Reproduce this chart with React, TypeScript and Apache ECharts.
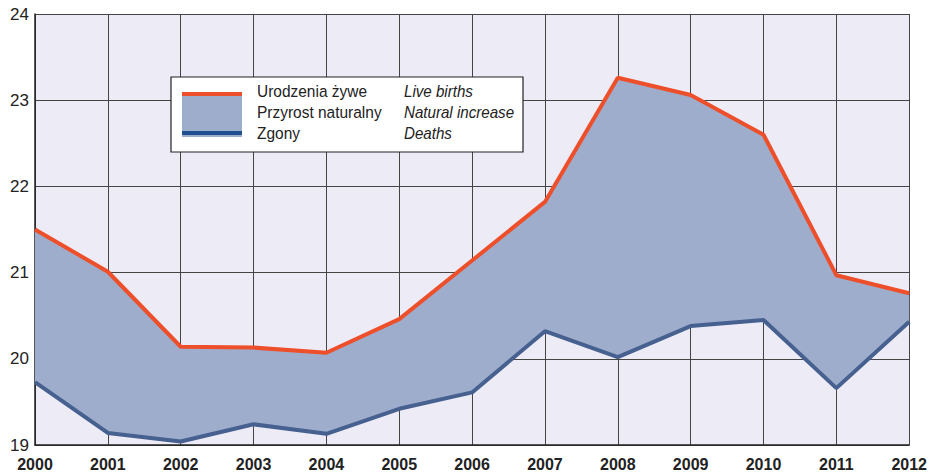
import React, { useEffect, useRef } from "react";
import * as echarts from "echarts";

const years = ["2000","2001","2002","2003","2004","2005","2006","2007","2008","2009","2010","2011","2012"];
const liveBirths = [21.5, 21.01, 20.14, 20.13, 20.07, 20.46, 21.14, 21.82, 23.26, 23.06, 22.6, 20.97, 20.76];
const deaths = [19.73, 19.14, 19.04, 19.24, 19.13, 19.42, 19.61, 20.32, 20.02, 20.38, 20.45, 19.66, 20.43];
const yTicks = [19, 20, 21, 22, 23, 24];
const legendPl = ["Urodzenia żywe", "Przyrost naturalny", "Zgony"];
const legendEn = ["Live births", "Natural increase", "Deaths"];

const RED = "#EE4F2B";
const BLUE = "#46608F";
const FILL = "#9FADCD";
const BG = "#EDEBF6";
const FONT = "'Liberation Sans Narrow', 'Liberation Sans', Arial, sans-serif";

export default function App() {
  const ref = useRef<HTMLDivElement>(null);
  useEffect(() => {
    const chart = echarts.init(ref.current!, null, { renderer: "svg" });
    const diff = liveBirths.map((v, i) => +(v - deaths[i]).toFixed(3));
    const lx = 171, ly = 77;
    chart.setOption({
      animation: false,
      grid: { left: 35, right: 19, top: 14, bottom: 30, show: true, backgroundColor: BG, borderWidth: 0 },
      xAxis: {
        type: "category",
        data: years,
        boundaryGap: false,
        axisLine: { show: true, lineStyle: { color: "#222", width: 1.5 } },
        axisTick: { show: false },
        axisLabel: { fontFamily: FONT, fontWeight: "bold", fontSize: 16, color: "#222", margin: 11 },
        splitLine: { show: true, lineStyle: { color: "#444", width: 1 } },
      },
      yAxis: {
        type: "value",
        min: yTicks[0],
        max: yTicks[yTicks.length - 1],
        interval: 1,
        axisLine: { show: true, lineStyle: { color: "#222", width: 1.5 } },
        axisTick: { show: false },
        axisLabel: { fontFamily: FONT, fontSize: 17, color: "#222", margin: 6 },
        splitLine: { show: true, lineStyle: { color: "#444", width: 1 } },
      },
      series: [
        {
          type: "line", data: deaths, stack: "band", symbol: "none",
          lineStyle: { width: 0, opacity: 0 }, areaStyle: { opacity: 0 }, silent: true,
        },
        {
          type: "line", data: diff, stack: "band", symbol: "none",
          lineStyle: { width: 0, opacity: 0 }, areaStyle: { color: FILL, opacity: 1 }, silent: true,
        },
        {
          type: "line", data: deaths, symbol: "none",
          lineStyle: { color: BLUE, width: 4 },
        },
        {
          type: "line", data: liveBirths, symbol: "none",
          lineStyle: { color: RED, width: 4 },
        },
      ],
      graphic: [
        { type: "rect", shape: { x: lx, y: ly, width: 352, height: 75 }, style: { fill: "#fff", stroke: "#222", lineWidth: 1.2 }, z: 100 },
        { type: "rect", shape: { x: 182, y: 93, width: 60, height: 44 }, style: { fill: FILL }, z: 101 },
        { type: "rect", shape: { x: 182, y: 92, width: 60, height: 4 }, style: { fill: RED }, z: 102 },
        { type: "rect", shape: { x: 182, y: 131, width: 60, height: 4 }, style: { fill: "#1F4F8F" }, z: 102 },
        ...legendPl.map((t, i) => ({
          type: "text", x: 257, y: 91 + i * 21, z: 103, scaleX: 0.91,
          style: { text: t, fontFamily: FONT, fontSize: 17, fill: "#222", verticalAlign: "middle" },
        })),
        ...legendEn.map((t, i) => ({
          type: "text", x: 404, y: 91 + i * 21, z: 103, scaleX: 0.89,
          style: { text: t, fontFamily: FONT, fontSize: 17, fontStyle: "italic", fill: "#222", verticalAlign: "middle" },
        })),
      ],
    });
    return () => chart.dispose();
  }, []);
  return <div ref={ref} style={{ position: "absolute", left: 0, top: 0, width: 930, height: 475 }} />;
}
